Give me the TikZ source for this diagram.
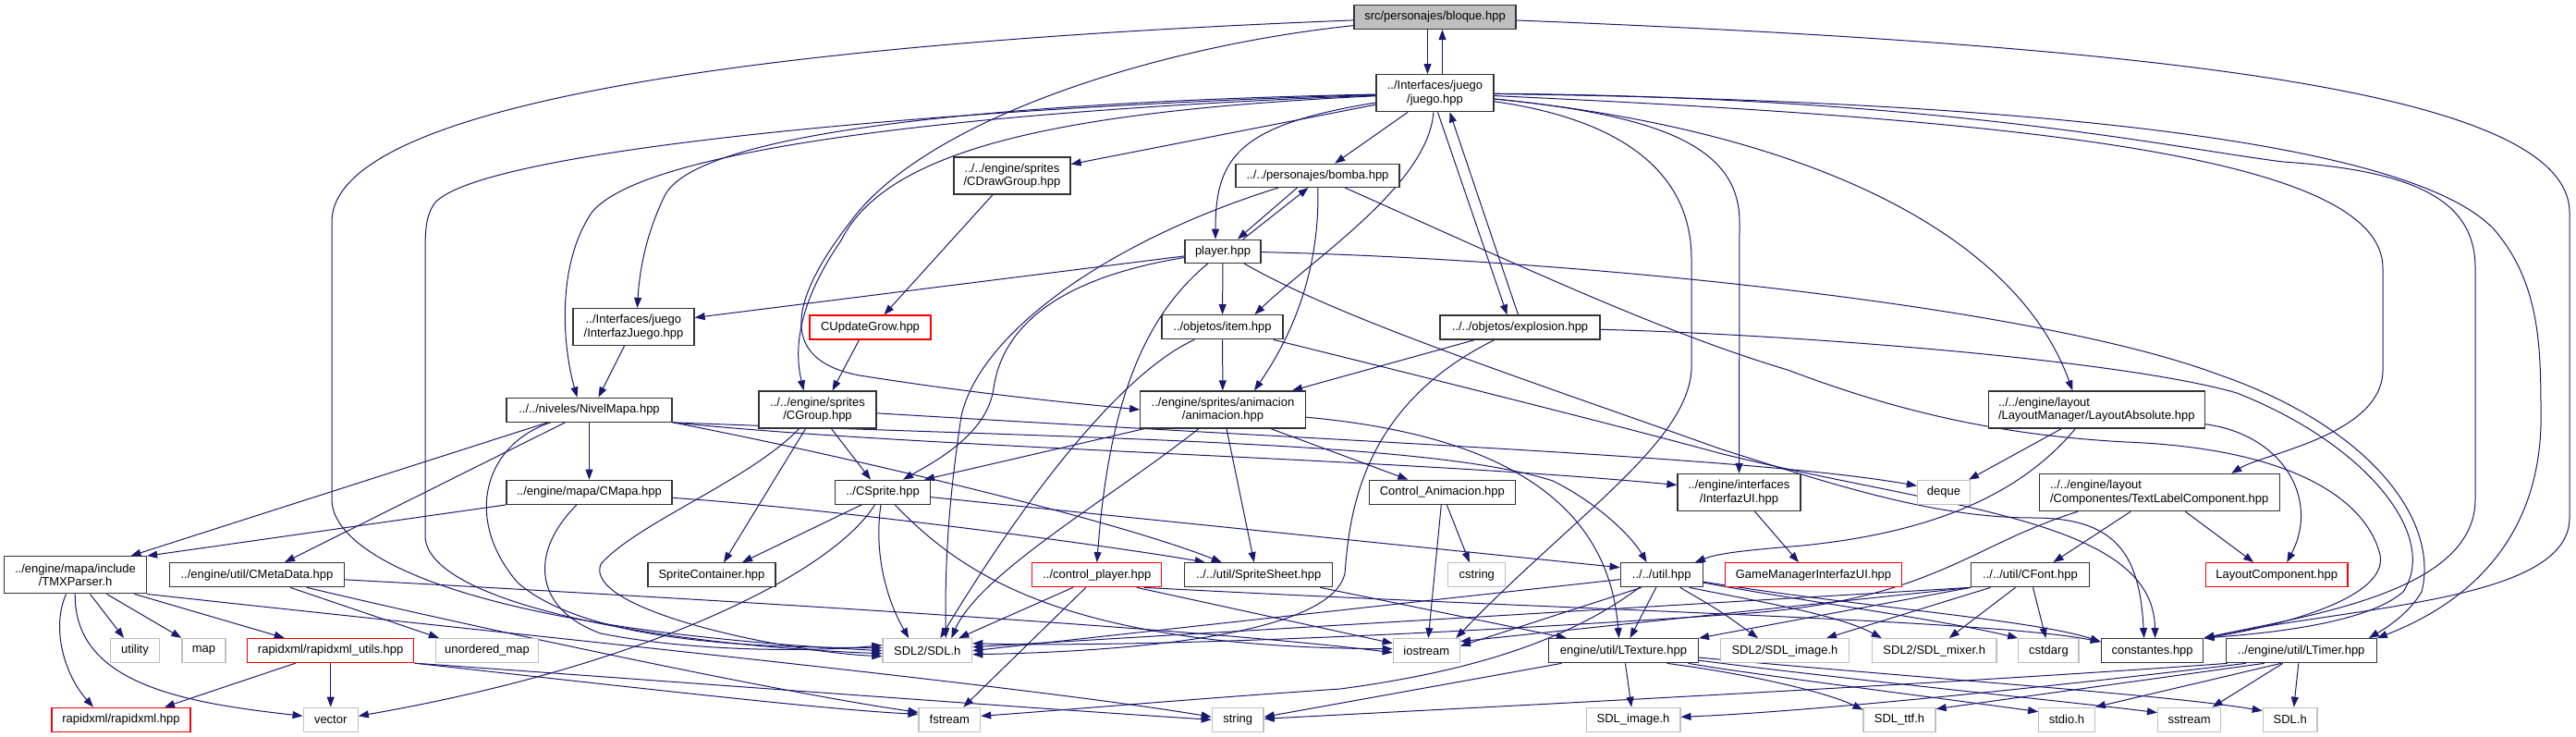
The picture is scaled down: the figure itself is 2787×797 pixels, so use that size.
\documentclass[tikz,border=0pt]{standalone}
\usepackage{fontspec}
\setmainfont{Liberation Sans}
\usetikzlibrary{arrows.meta}
\definecolor{eb}{HTML}{191970}
\definecolor{gb}{HTML}{BFBFBF}
\pgfdeclarelayer{back}
\pgfdeclarelayer{bg}
\pgfsetlayers{back,bg,main}
\tikzset{
  box/.style={font=\fontsize{13}{14.5}\selectfont, inner sep=0pt, align=center, fill=white, line width=1.3pt},
  nb/.style={box, draw=black!80},
  ng/.style={box, draw=gb},
  nr/.style={box, draw=red},
  ns/.style={box, draw=black!80, fill=gb},
  e/.style={draw=eb, line width=1pt, -{Triangle[length=11pt,width=8pt]}},
}
\newcommand\mknode[7]{\node[#1,minimum width=#5pt,minimum height=#6pt] (#2) at (#3,#4) {#7};}
\begin{document}
\begin{tikzpicture}[x=1pt,y=-1pt]
\begin{pgfonlayer}{back}
\fill[white] (0,0) rectangle (2787,797);
\end{pgfonlayer}
\path[use as bounding box] (0,0) rectangle (2787,797);
% nodes
\mknode{ns}{bloque}{1552.5}{18.5}{175}{26}{src/personajes/bloque.hpp}
\mknode{nb}{juego}{1552.5}{100.7}{127}{40}{../Interfaces/juego\\/juego.hpp}
\mknode{nb}{cdraw}{1095}{190}{126}{40}{../../engine/sprites\\/CDrawGroup.hpp}
\mknode{nb}{bomba}{1425.5}{189.8}{177}{25}{../../personajes/bomba.hpp}
\mknode{nb}{player}{1323}{271.7}{82}{25}{player.hpp}
\mknode{nb}{ijuego}{685.5}{353.5}{131}{40}{../Interfaces/juego\\/InterfazJuego.hpp}
\mknode{nr}{cupd}{941.5}{354}{131}{26}{CUpdateGrow.hpp}
\mknode{nb}{item}{1322.5}{353.7}{131}{26}{../objetos/item.hpp}
\mknode{nb}{explosion}{1644.5}{354}{173}{26}{../../objetos/explosion.hpp}
\mknode{nb}{nivel}{637.5}{443.2}{179}{26}{../../niveles/NivelMapa.hpp}
\mknode{nb}{cgroup}{884.5}{443}{127}{40}{../../engine/sprites\\/CGroup.hpp}
\mknode{nb}{anim}{1323}{443}{178.5}{40}{../engine/sprites/animacion\\/animacion.hpp}
\mknode{nb,align=left}{labs}{2268.3}{443}{234}{40}{../../engine/layout\\/LayoutManager/LayoutAbsolute.hpp}
\mknode{nb}{cmapa}{637.5}{532.3}{179}{26}{../engine/mapa/CMapa.hpp}
\mknode{nb}{csprite}{955}{532.3}{102.5}{26}{../CSprite.hpp}
\mknode{nb}{canim}{1560.3}{532.3}{158}{26}{Control\_Animacion.hpp}
\mknode{nb}{iui}{1881.5}{532.5}{133}{40}{../engine/interfaces\\/InterfazUI.hpp}
\mknode{ng}{deque}{2103}{532.3}{57}{26}{deque}
\mknode{nb,align=left}{tlc}{2336.2}{532.5}{260}{40}{../../engine/layout\\/Componentes/TextLabelComponent.hpp}
\mknode{nb}{tmx}{81.5}{621.8}{154}{40}{../engine/mapa/include\\/TMXParser.h}
\mknode{nb}{cmeta}{278}{621.7}{189}{26}{../engine/util/CMetaData.hpp}
\mknode{nb}{scont}{770}{621.8}{138}{26}{SpriteContainer.hpp}
\mknode{nr}{cp}{1186.8}{621.7}{140}{26}{../control\_player.hpp}
\mknode{nb}{ssheet}{1361.8}{621.7}{160}{26}{../../util/SpriteSheet.hpp}
\mknode{ng}{cstring}{1597.8}{621.7}{62}{26}{cstring}
\mknode{nb}{util}{1797.7}{621.7}{89}{26}{../../util.hpp}
\mknode{nr}{gm}{1962}{621.7}{191}{26}{GameManagerInterfazUI.hpp}
\mknode{nb}{cfont}{2196.5}{621.7}{127.5}{26}{../../util/CFont.hpp}
\mknode{nr}{lcomp}{2463.2}{621.7}{153.7}{26}{LayoutComponent.hpp}
\mknode{ng}{utility}{146}{703.5}{53}{26}{utility}
\mknode{ng}{map}{220.5}{703.5}{47}{26}{map}
\mknode{nr}{rxu}{357.7}{703.5}{180}{26}{rapidxml/rapidxml\_utils.hpp}
\mknode{ng}{umap}{527}{703.5}{111}{26}{unordered\_map}
\mknode{ng}{sdl}{1003.3}{703.7}{96.6}{26}{SDL2/SDL.h}
\mknode{ng}{iostream}{1543.3}{703.7}{72}{26}{iostream}
\mknode{nb}{ltex}{1756.5}{703.7}{161.7}{26}{engine/util/LTexture.hpp}
\mknode{ng}{sdlimg}{1931}{703.7}{138.8}{26}{SDL2/SDL\_image.h}
\mknode{ng}{sdlmix}{2092.7}{703.7}{134.6}{26}{SDL2/SDL\_mixer.h}
\mknode{ng}{cstdarg}{2216.4}{703.7}{65.2}{26}{cstdarg}
\mknode{nb}{const}{2328.6}{703.7}{110.3}{26}{constantes.hpp}
\mknode{nb}{ltimer}{2489.8}{703.7}{163}{26}{../engine/util/LTimer.hpp}
\mknode{nr}{rx}{131}{778.3}{150}{26}{rapidxml/rapidxml.hpp}
\mknode{ng}{vector}{357.7}{778.3}{59}{26}{vector}
\mknode{ng}{fstream}{1027.3}{778.3}{66.5}{26}{fstream}
\mknode{ng}{string}{1339.2}{778.3}{55.8}{26}{string}
\mknode{ng}{sdlimgh}{1767}{778.3}{101.7}{26}{SDL\_image.h}
\mknode{ng}{sdlttf}{2055}{778.3}{78}{26}{SDL\_ttf.h}
\mknode{ng}{stdio}{2236}{778.3}{60.5}{26}{stdio.h}
\mknode{ng}{sstream}{2368.6}{778.3}{68}{26}{sstream}
\mknode{ng}{sdlh}{2477.7}{778.3}{58.7}{26}{SDL.h}
% edges
\begin{pgfonlayer}{bg}
% bloque
\draw[e] ([xshift=-8]bloque.south) -- ([xshift=-8]juego.north);
\draw[e] ([xshift=8]juego.north) -- ([xshift=8]bloque.south);
\draw[e] (bloque) .. controls (1000,40) and (359,90) .. (359,240) -- (359,540) .. controls (359,600) and (500,680) .. (sdl.west);
\draw[e] (bloque) .. controls (1250,50) and (1000,130) .. (920,240) .. controls (850,330) and (845,390) .. (930,406) .. controls (1050,425) and (1150,435) .. (anim.west);
\draw[e] (bloque) .. controls (2350,50) and (2780,100) .. (2780,230) -- (2780,560) .. controls (2780,650) and (2550,655) .. (const.north east);
% juego
\draw[e] (juego) -- (cdraw);
\draw[e] (juego) .. controls (1150,120) and (960,160) .. (910,260) .. controls (855,340) and (862,390) .. ([xshift=-15]cgroup.north);
\draw[e] (juego) .. controls (1100,110) and (760,140) .. (720,210) .. controls (700,250) and (692,290) .. ([xshift=4]ijuego.north);
\draw[e] (juego) .. controls (1100,118) and (700,155) .. (640,230) .. controls (600,290) and (610,380) .. ([xshift=-13]nivel.north);
\draw[e] (juego) .. controls (1050,115) and (520,160) .. (470,220) .. controls (460,235) and (460,250) .. (460,280) -- (460,580) .. controls (462,650) and (700,697) .. ([yshift=-3]sdl.west);
\draw[e] (juego) -- (bomba);
\draw[e] (juego) .. controls (1340,135) and (1315,170) .. ([xshift=-8]player.north);
\draw[e] (juego) .. controls (1545,200) and (1420,280) .. ([xshift=35]item.north);
\draw[e] ([xshift=3]juego.south) -- ([xshift=-14]explosion.north);
\draw[e] ([xshift=-2]explosion.north) -- ([xshift=16]juego.south);
\draw[e] (juego) .. controls (1760,130) and (1830,190) .. (1830,280) -- (1830,400) .. controls (1825,480) and (1700,560) .. ([xshift=32]iostream.north);
\draw[e] (juego) .. controls (1800,125) and (1882,160) .. (1882,240) -- (iui.north);
\draw[e] (juego) .. controls (1950,140) and (2180,250) .. ([xshift=-26]labs.north);
\draw[e] (juego) .. controls (2200,130) and (2578,170) .. (2578,290) -- (2578,400) .. controls (2578,470) and (2450,490) .. ([xshift=78]tlc.north);
\draw[e] (juego) .. controls (2100,105) and (2350,160) .. (2470,175) .. controls (2620,185) and (2678,220) .. (2678,290) -- (2678,540) .. controls (2678,640) and (2500,665) .. (const.north east);
\draw[e] (juego) .. controls (2250,110) and (2620,160) .. (2700,250) .. controls (2750,310) and (2749,380) .. (2749,460) .. controls (2745,600) and (2650,660) .. ([xshift=82]ltimer.north);
% player
\draw[e] (player) -- ([yshift=10]ijuego.east);
\draw[e] ([xshift=22]player.north) -- ([xshift=-10]bomba.south);
\draw[e] ([xshift=-22]bomba.south) -- ([xshift=16]player.north);
\draw[e] (player) -- (item);
\draw[e] (player) .. controls (1150,300) and (1085,350) .. (1075,420) .. controls (1068,470) and (1010,500) .. ([xshift=22]csprite.north);
\draw[e] (player) .. controls (1240,340) and (1200,430) .. (cp.north);
\draw[e] (player) .. controls (1700,280) and (2200,330) .. (2400,405) .. controls (2560,460) and (2640,560) .. (2620,640) .. controls (2605,665) and (2580,680) .. ([xshift=73]ltimer.north);
\draw[e] (player) .. controls (1450,345) and (1650,410) .. (1860,485) .. controls (2000,530) and (2100,560) .. (2200,560) .. controls (2290,560) and (2315,600) .. ([xshift=-9]const.north);
% item
\draw[e] (item) -- (anim);
\draw[e] (item) .. controls (1220,400) and (1120,520) .. ([xshift=14]sdl.north);
\draw[e] (item) .. controls (1550,410) and (1750,460) .. (1860,490) .. controls (2100,550) and (2330,560) .. ([xshift=3]const.north);
% bomba
\draw[e] (bomba) .. controls (1428,290) and (1400,360) .. ([xshift=34]anim.north);
\draw[e] (bomba) .. controls (1200,260) and (1060,360) .. (1040,450) .. controls (1028,530) and (1022,600) .. ([xshift=20]sdl.north);
\draw[e] (bomba) .. controls (1650,290) and (1800,360) .. (1934,400) .. controls (2040,440) and (2150,470) .. (2300,478) .. controls (2480,485) and (2560,540) .. (2575,600) .. controls (2585,650) and (2450,680) .. (const.north east);
% explosion
\draw[e] (explosion) -- ([xshift=75]anim.north);
\draw[e] (explosion) .. controls (1470,440) and (1460,560) .. (1455,620) .. controls (1440,690) and (1200,705) .. ([yshift=-4]sdl.east);
\draw[e] (explosion) .. controls (1950,362) and (2300,390) .. (2420,425) .. controls (2560,480) and (2640,580) .. (2600,640) .. controls (2560,675) and (2450,685) .. (const.north east);
% CDrawGroup, CUpdateGrow, InterfazJuego
\draw[e] ([xshift=-21]cdraw.south) -- ([xshift=15]cupd.north);
\draw[e] ([xshift=-12]cupd.south) -- ([xshift=16]cgroup.north);
\draw[e] ([xshift=-10]ijuego.south) -- ([xshift=10]nivel.north);
% NivelMapa
\draw[e] ([xshift=-45]nivel.south) -- ([xshift=60]tmx.north);
\draw[e] ([xshift=-26]nivel.south) -- ([xshift=30]cmeta.north);
\draw[e] (nivel) -- (cmapa);
\draw[e] (nivel) .. controls (525,480) and (500,560) .. (560,630) .. controls (640,700) and (850,700) .. ([yshift=3]sdl.west);
\draw[e] (nivel.south east) .. controls (900,490) and (1200,560) .. ([xshift=-40]ssheet.north);
\draw[e] (nivel.south east) .. controls (1000,485) and (1500,495) .. ([yshift=8]iui.west);
\draw[e] (nivel.south east) .. controls (1200,475) and (1550,478) .. (1680,520) .. controls (1730,545) and (1765,580) .. ([xshift=-16]util.north);
% CMapa
\draw[e] (cmapa.south west) -- (tmx.north east);
\draw[e] (cmapa) .. controls (900,550) and (1200,590) .. ([xshift=-58]ssheet.north);
\draw[e] (cmapa) .. controls (570,600) and (580,660) .. (650,685) .. controls (750,705) and (880,705) .. ([yshift=6]sdl.west);
% CGroup
\draw[e] ([xshift=-13]cgroup.south) -- ([xshift=13]scont.north);
\draw[e] ([xshift=15]cgroup.south) -- ([xshift=-13]csprite.north);
\draw[e] (cgroup) .. controls (810,520) and (690,565) .. (650,610) .. controls (630,660) and (850,705) .. ([yshift=-6]sdl.west);
\draw[e] (cgroup) .. controls (1500,480) and (1900,495) .. ([yshift=7]deque.west);
% animacion
\draw[e] ([xshift=-85]anim.south) -- ([xshift=45]csprite.north);
\draw[e] (anim) .. controls (1200,540) and (1060,620) .. ([xshift=26]sdl.north);
\draw[e] ([xshift=4]anim.south) -- ([xshift=-5]ssheet.north);
\draw[e] ([xshift=52]anim.south) -- ([xshift=-37]canim.north);
\draw[e] (anim) .. controls (1620,470) and (1740,540) .. ([xshift=-5]ltex.north);
% CSprite
\draw[e] ([xshift=-23]csprite.south) -- ([xshift=33]scont.north);
\draw[e] (csprite) -- ([yshift=8]util.west);
\draw[e] (csprite) .. controls (945,600) and (960,650) .. ([xshift=-20]sdl.north);
\draw[e] (csprite) .. controls (1040,620) and (1150,700) .. ([yshift=2]iostream.west);
\draw[e] (csprite) .. controls (900,620) and (700,720) .. ([yshift=4]vector.east);
% control_player
\draw[e] ([xshift=-26]cp.south) -- ([xshift=34]sdl.north);
\draw[e] ([xshift=-12]cp.south) -- ([xshift=15]fstream.north);
\draw[e] ([xshift=43]cp.south) -- ([yshift=8]iostream.west);
\draw[e] ([xshift=51]cp.south) .. controls (1700,660) and (2150,670) .. ([yshift=-4]const.north west);
% SpriteSheet, Control_Animacion, InterfazUI
\draw[e] (ssheet) -- ([xshift=20]ltex.north west);
\draw[e] ([xshift=-1]canim.south) -- ([xshift=2]iostream.north);
\draw[e] ([xshift=5]canim.south) -- ([xshift=-8]cstring.north);
\draw[e] ([xshift=17]iui.south) -- ([xshift=-16]gm.north);
% LayoutAbsolute
\draw[e] ([xshift=-38]labs.south) -- ([xshift=27]deque.north);
\draw[e] ([xshift=-23]labs.south) .. controls (2190,530) and (2100,575) .. (1950,590) .. controls (1890,595) and (1860,598) .. ([xshift=-9]util.north east);
\draw[e] (labs) .. controls (2470,470) and (2510,540) .. ([xshift=11]lcomp.north);
% TextLabelComponent
\draw[e] ([xshift=28]tlc.south) -- ([xshift=-25]lcomp.north);
\draw[e] ([xshift=-31]tlc.south) -- ([xshift=25]cfont.north);
\draw[e] ([xshift=-88]tlc.south) .. controls (2130,590) and (2090,650) .. (1880,664) .. controls (1500,690) and (1200,700) .. ([yshift=8]sdl.east);
% util
\draw[e] (util) -- (sdl.east);
\draw[e] ([xshift=-22]util.south) -- ([yshift=5]iostream.east);
\draw[e] ([xshift=-6]util.south) -- ([xshift=7]ltex.north);
\draw[e] ([xshift=-24]util.south) .. controls (1700,690) and (1600,725) .. (1450,745) .. controls (1300,755) and (1150,768) .. ([yshift=4]fstream.east);
\draw[e] ([xshift=20]util.south) .. controls (1860,660) .. ([xshift=-29]sdlimg.north);
\draw[e] ([xshift=30]util.south) .. controls (1900,650) and (1990,665) .. ([xshift=-57]sdlmix.north);
\draw[e] (util) .. controls (1950,650) and (2100,670) .. (cstdarg.north west);
\draw[e] (util) .. controls (2000,655) and (2200,670) .. ([yshift=-4]const.north west);
% CFont
\draw[e] ([xshift=-43]cfont.south) -- ([xshift=45]sdlimg.north);
\draw[e] ([xshift=-16]cfont.south) -- ([xshift=16]sdlmix.north);
\draw[e] ([xshift=3]cfont.south) -- ([xshift=-3]cstdarg.north);
\draw[e] (cfont.south west) -- (ltex.north east);
\draw[e] (cfont.south west) -- ([yshift=10]iostream.east);
\draw[e] (cfont.south west) -- ([yshift=4]sdl.east);
% LTexture
\draw[e] (ltex) -- (sdlimgh);
\draw[e] ([xshift=-67]ltex.south) -- ([yshift=3]string.east);
\draw[e] ([xshift=47]ltex.south) .. controls (1900,730) and (1980,750) .. ([yshift=-3]sdlttf.north west);
\draw[e] ([xshift=70]ltex.south) .. controls (1900,730) and (2100,755) .. ([yshift=-5]stdio.north west);
\draw[e] (ltex) .. controls (2000,735) and (2250,760) .. ([yshift=-6]sstream.north west);
\draw[e] (ltex) .. controls (2100,735) and (2350,752) .. ([yshift=-4]sdlh.north west);
% LTimer
\draw[e] ([xshift=-80]ltimer.south) .. controls (2100,740) and (1600,765) .. ([yshift=1]string.east);
\draw[e] ([xshift=-60]ltimer.south) .. controls (2200,745) and (1950,770) .. ([yshift=3]sdlimgh.east);
\draw[e] ([xshift=-40]ltimer.south) -- ([yshift=-2]sdlttf.north east);
\draw[e] ([xshift=-22]ltimer.south) -- (stdio.north east);
\draw[e] ([xshift=-20]ltimer.south) -- ([xshift=25]sstream.north);
\draw[e] ([xshift=-3]ltimer.south) -- ([xshift=4]sdlh.north);
% TMXParser
\draw[e] ([xshift=16]tmx.south) -- ([xshift=-12]utility.north);
\draw[e] ([xshift=34]tmx.south) -- (map.north west);
\draw[e] ([xshift=64]tmx.south) -- ([xshift=-50]rxu.north);
\draw[e] ([xshift=-10]tmx.south) .. controls (55,680) and (70,730) .. ([xshift=-30]rx.north);
\draw[e] (tmx) .. controls (80,740) and (200,760) .. ([yshift=4]vector.west);
\draw[e] (tmx.south east) .. controls (500,680) and (1100,740) .. ([yshift=3]string.west);
% rapidxml_utils
\draw[e] ([xshift=-38]rxu.south) -- ([xshift=47]rx.north);
\draw[e] (rxu) -- (vector);
\draw[e] (rxu.south east) .. controls (700,735) and (1100,765) .. (string.west);
\draw[e] (rxu.south east) .. controls (700,745) and (900,768) .. ([yshift=6]fstream.west);
% CMetaData
\draw[e] ([xshift=36]cmeta.south) -- ([xshift=4]umap.north west);
\draw[e] ([xshift=54]cmeta.south) .. controls (520,680) and (850,750) .. ([yshift=8]fstream.west);
\draw[e] (cmeta) .. controls (800,650) and (1300,680) .. ([yshift=-2]iostream.west);
\end{pgfonlayer}
\end{tikzpicture}
\end{document}
